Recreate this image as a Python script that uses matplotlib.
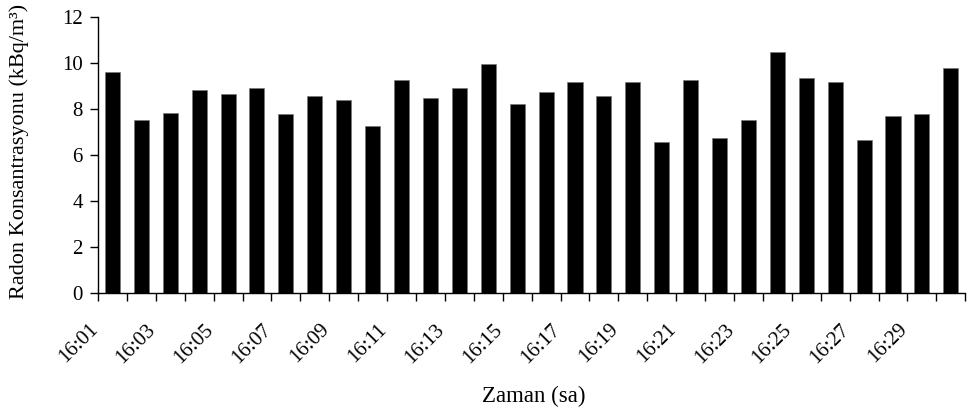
import matplotlib
matplotlib.use("Agg")
from matplotlib import pyplot as plt
from matplotlib import transforms
import numpy as np

times = ["16:%02d" % m for m in range(1, 31)]
radon = [9.61, 7.52, 7.85, 8.84, 8.65, 8.91, 7.78, 8.56, 8.39, 7.26,
         9.26, 8.48, 8.91, 9.96, 8.21, 8.74, 9.17, 8.56, 9.17, 6.56,
         9.26, 6.73, 7.52, 10.48, 9.35, 9.17, 6.65, 7.69, 7.78, 9.78]

plt.rcParams['font.family'] = ['Liberation Serif', 'DejaVu Serif']
plt.rcParams['font.size'] = 15

fig = plt.figure(figsize=(9.68, 4.15), dpi=100)
ax = fig.add_axes([0.1012, 0.294, 0.896, 0.664])

x = np.arange(len(times))
ax.bar(x, radon, width=0.52, color='black', edgecolor='#777777', linewidth=0.5)

ax.set_xlim(-0.5, len(times) - 0.5)
ax.set_ylim(0, 12)
ax.set_yticks(range(0, 13, 2))

# tick marks between categories, labels every other category
ax.set_xticks(np.arange(-0.5, len(times), 1.0), minor=True)
ax.set_xticks(x[::2])
ax.set_xticklabels(times[::2])
ax.tick_params(axis='x', which='major', length=0, pad=19.5)
ax.tick_params(axis='x', which='minor', length=6, width=1, direction='out')
ax.tick_params(axis='y', length=6, width=1, direction='out', pad=5)

offset = transforms.ScaledTranslation(-24 / 100, 0, fig.dpi_scale_trans)
for lbl in ax.get_xticklabels():
    lbl.set_rotation(45)
    lbl.set_ha('right')
    lbl.set_va('top')
    lbl.set_rotation_mode('anchor')
    lbl.set_transform(lbl.get_transform() + offset)

ax.spines['top'].set_visible(False)
ax.spines['right'].set_visible(False)
ax.spines['left'].set_linewidth(1)
ax.spines['bottom'].set_linewidth(1)

ax.set_ylabel('Radon Konsantrasyonu (kBq/m³)', fontsize=16)
ax.yaxis.set_label_coords(-0.079, 0.515)
ax.set_xlabel('Zaman (sa)', fontsize=16.5)
ax.xaxis.set_label_coords(0.502, -0.337)

fig.savefig('out.png', dpi=100)
